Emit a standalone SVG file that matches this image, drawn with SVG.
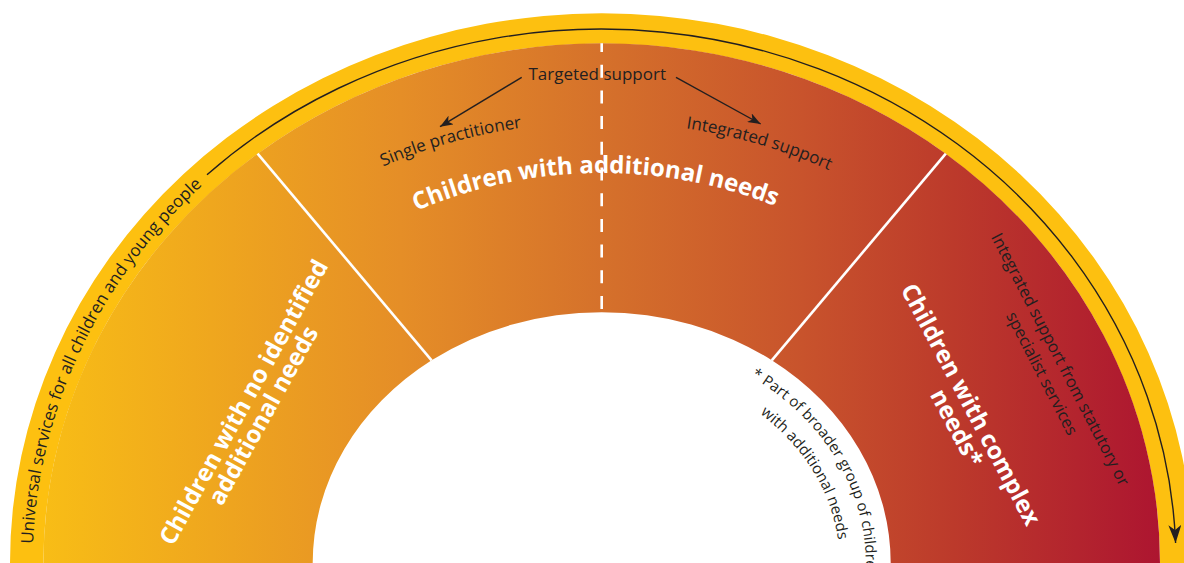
<svg xmlns="http://www.w3.org/2000/svg" xmlns:xlink="http://www.w3.org/1999/xlink" width="1184" height="563" viewBox="0 0 1184 563">
  <style>
    .dk { fill: #231f20; font-family: "Open Sans", "Liberation Sans", sans-serif; }
    .wb { fill: #ffffff; font-family: "Open Sans", "Liberation Sans", sans-serif; font-weight: bold; }
    .div { stroke: #ffffff; stroke-width: 2.6; fill: none; }
    .arr { stroke: #231f20; stroke-width: 1.4; fill: none; }
    .band { fill: url(#g); }
  </style>
  <defs>
    <linearGradient id="g" gradientUnits="userSpaceOnUse" x1="43" y1="0" x2="1160" y2="0">
      <stop offset="0" stop-color="#F8BD16"/>
      <stop offset="0.32" stop-color="#E58E27"/>
      <stop offset="0.5" stop-color="#D5712B"/>
      <stop offset="0.68" stop-color="#C8532C"/>
      <stop offset="0.815" stop-color="#BC3A2B"/>
      <stop offset="1" stop-color="#AD1530"/>
    </linearGradient>
    <marker id="ah" viewBox="0 0 13 10" refX="13" refY="5" markerWidth="13" markerHeight="10" markerUnits="userSpaceOnUse" orient="auto">
      <path d="M0,0 L13,5 L0,10 L3.5,5 Z" fill="#231f20"/>
    </marker>
    <marker id="ahb" viewBox="0 0 18 13" refX="18" refY="6.5" markerWidth="18" markerHeight="13" markerUnits="userSpaceOnUse" orient="auto">
      <path d="M0,0 L18,6.5 L0,13 L5,6.5 Z" fill="#231f20"/>
    </marker>
    <path id="pu" d="M32.7,563 A569 530 0 0 1 601.7,33"/>
    <path id="ps" d="M383,166.4 A500 441 0 0 1 601.7,122"/>
    <path id="pi" d="M686,128.3 A500 441 0 0 1 1000,296.4"/>
    <path id="pa" d="M171.7,563 A430 390 0 0 1 1031.7,563"/>
    <path id="pn1" d="M751,376.6 A264 226 0 0 1 601.7,789"/>
    <path id="pn2" d="M760,413.7 A238 200 0 0 1 601.7,763"/>
  </defs>

  <g id="ring">
    <path d="M10,563 A591.7 549.7 0 0 1 1193.4,563 L1160,563 A558.3 519.7 0 0 0 43.4,563 Z" fill="#FDC010"/>
  </g>

  <g id="node-no-needs">
    <path class="band" d="M43.4,563 A558.3 519.7 0 0 1 257.6,153.7 L431.6,360.3 A289 251 0 0 0 312.7,563 Z"/>
    <text class="wb" font-size="24" text-anchor="middle" transform="translate(250.9,406.3) rotate(-61)"><tspan x="0" y="0">Children with no identified</tspan><tspan x="-2" y="23.5">additional needs</tspan></text>
  </g>

  <g id="node-additional">
    <path class="band" d="M257.6,153.7 A558.3 519.7 0 0 1 945.8,153.7 L771.8,360.3 A289 251 0 0 0 431.6,360.3 Z"/>
    <text class="wb" font-size="24"><textPath xlink:href="#pa" href="#pa" startOffset="49.5%" text-anchor="middle">Children with additional needs</textPath></text>
  </g>

  <g id="node-complex">
    <path class="band" d="M945.8,153.7 A558.3 519.7 0 0 1 1160,563 L890.7,563 A289 251 0 0 0 771.8,360.3 Z"/>
    <text class="wb" font-size="24" text-anchor="middle" transform="translate(963.5,408.3) rotate(62)"><tspan x="0" y="0">Children with complex</tspan><tspan x="14" y="23.5">needs*</tspan></text>
    <text class="dk" font-size="16.5" transform="translate(990.7,236.8) rotate(62.7)">Integrated support from statutory or</text>
    <text class="dk" font-size="16.5" transform="translate(1005.7,315.4) rotate(62.7)">specialist services</text>
  </g>

  <g id="dividers">
    <line class="div" x1="257.6" y1="153.7" x2="431.6" y2="360.3"/>
    <line class="div" x1="945.8" y1="153.7" x2="771.8" y2="360.3"/>
    <line class="div" x1="601.7" y1="309" x2="601.7" y2="43.3" stroke-width="3" stroke-dasharray="13 12.7"/>
  </g>

  <g id="label-universal">
    <text class="dk" font-size="17"><textPath xlink:href="#pu" href="#pu" startOffset="19">Universal services for all children and young people</textPath></text>
  </g>

  <g id="label-targeted">
    <text class="dk" font-size="17" x="597.2" y="80" text-anchor="middle">Targeted support</text>
  </g>
  <g id="label-single">
    <text class="dk" font-size="17"><textPath xlink:href="#ps" href="#ps">Single practitioner</textPath></text>
  </g>
  <g id="label-integrated">
    <text class="dk" font-size="17"><textPath xlink:href="#pi" href="#pi">Integrated support</textPath></text>
  </g>
  <g id="label-footnote">
    <text class="dk" font-size="15"><textPath xlink:href="#pn1" href="#pn1">* Part of broader group of children</textPath></text>
    <text class="dk" font-size="15.2"><textPath xlink:href="#pn2" href="#pn2">with additional needs</textPath></text>
  </g>

  <g id="connectors">
    <line class="arr" x1="521.7" y1="77.3" x2="440" y2="126.7" marker-end="url(#ah)"/>
    <line class="arr" x1="676" y1="77.3" x2="760.7" y2="124" marker-end="url(#ah)"/>
    <path class="arr" d="M207,174.7 A574.7 534.3 0 0 1 1175.6,543" marker-end="url(#ahb)"/>
  </g>
</svg>
